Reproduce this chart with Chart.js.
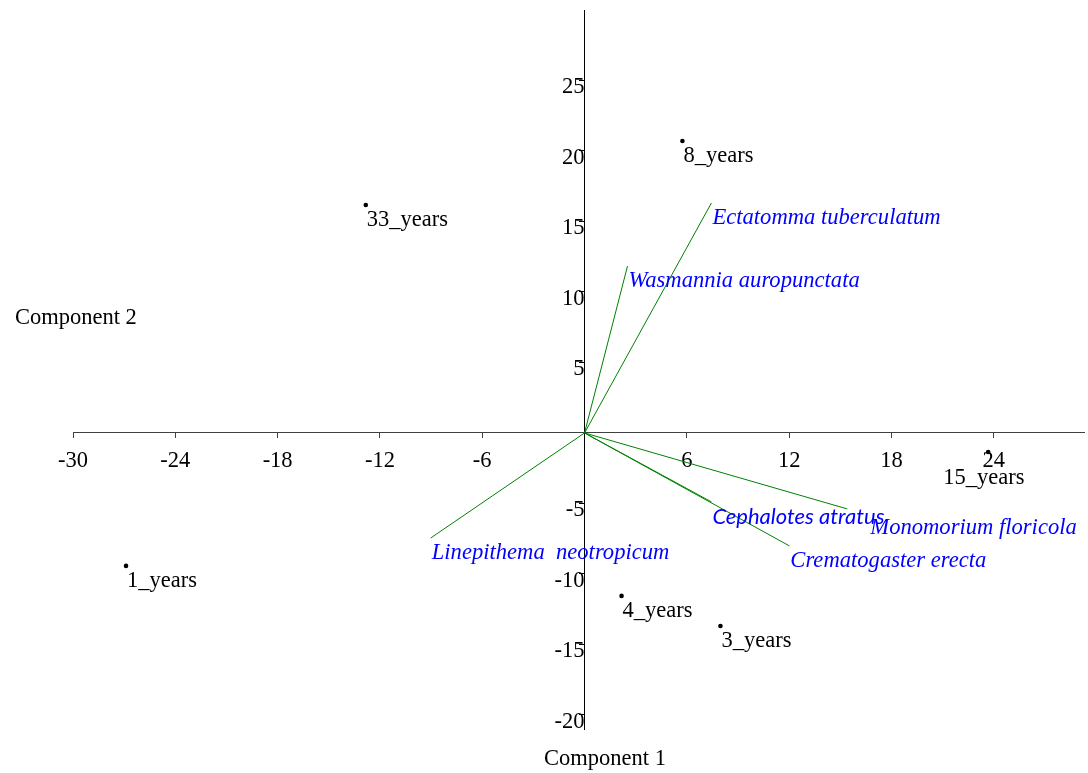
<!DOCTYPE html>
<html>
<head>
<meta charset="utf-8">
<script src="https://cdn.jsdelivr.net/npm/chart.js@4"></script>
<style>
  body { margin: 0; background: #fff; }
  #wrap { width: 1088px; height: 773px; position: relative; }
</style>
</head>
<body>
<div id="wrap"><canvas id="grafico"></canvas></div>
<script>
// Sites (sample scores)
const siteNames = ["8_years", "33_years", "1_years", "4_years", "3_years", "15_years"];
const siteX = [5.74, -12.83, -26.89, 2.17, 7.97, 23.67];
const siteY = [20.71, 16.17, -9.43, -11.56, -13.69, -1.35];

// Species (loadings)
const speciesNames = ["Ectatomma tuberculatum", "Wasmannia auropunctata", "Cephalotes atratus",
  "Monomorium floricola", "Crematogaster erecta", "Linepithema  neotropicum"];
const speciesX = [7.44, 2.52, 7.44, 15.41, 12.01, -9.02];
const speciesY = [16.31, 11.84, -4.89, -5.39, -8.01, -7.45];

// Tick labels
const xTicks = [-30, -24, -18, -12, -6, 6, 12, 18, 24];
const yTicks = [-20, -15, -10, -5, 5, 10, 15, 20, 25];

const serif = '"Liberation Serif", "Times New Roman", serif';

// setas das espécies
const vectorSets = speciesNames.map((nome, i) => ({
  label: nome,
  data: [{ x: 0, y: 0 }, { x: speciesX[i], y: speciesY[i] }],
  showLine: true,
  borderColor: "#008000",
  borderWidth: 1,
  pointRadius: 0,
  fill: false
}));

const siteSet = {
  label: "sites",
  data: siteX.map((x, i) => ({ x: x, y: siteY[i] })),
  backgroundColor: "#000",
  borderColor: "#000",
  pointRadius: 2.3,
  borderWidth: 0
};

// textos dos pontos e das espécies
const rotulos = {
  id: "rotulos",
  afterDatasetsDraw(chart) {
    const ctx = chart.ctx;
    const sx = chart.scales.x, sy = chart.scales.y;
    ctx.save();
    ctx.textBaseline = "middle";
    ctx.textAlign = "left";

    ctx.font = "22.5px " + serif;
    ctx.fillStyle = "#000";
    siteNames.forEach((nome, i) => {
      let px = sx.getPixelForValue(siteX[i]) + 1;
      let py = sy.getPixelForValue(siteY[i]) + 15;
      if (nome === "15_years") { px -= 46; py += 11; }
      ctx.fillText(nome, px, py);
    });

    ctx.fillStyle = "#0000ff";
    speciesNames.forEach((nome, i) => {
      let px = sx.getPixelForValue(speciesX[i]) + 1;
      let py = sy.getPixelForValue(speciesY[i]) + 15;
      if (nome === "Cephalotes atratus") {
        ctx.font = "italic 22px Lato, sans-serif";
      } else {
        ctx.font = "italic 22.6px " + serif;
      }
      if (nome === "Monomorium floricola") { px += 22; py += 4; }
      ctx.fillText(nome, px, py);
    });

    // títulos dos eixos
    ctx.font = "22.5px " + serif;
    ctx.fillStyle = "#000";
    ctx.textAlign = "center";
    ctx.fillText("Component 1", 605, 759);
    ctx.textAlign = "left";
    ctx.fillText("Component 2", 15, 318);
    ctx.restore();
  }
};

new Chart(document.getElementById("grafico"), {
  type: "scatter",
  data: { datasets: [...vectorSets, siteSet] },
  options: {
    responsive: true,
    maintainAspectRatio: false,
    animation: false,
    layout: { padding: { left: 73, right: 0, top: 10, bottom: 44 } },
    plugins: { legend: { display: false }, tooltip: { enabled: false } },
    scales: {
      x: {
        type: "linear",
        position: { y: 0 },
        min: -30,
        max: 29.29,
        afterBuildTicks: (axis) => { axis.ticks = xTicks.map(v => ({ value: v })); },
        grid: { drawOnChartArea: false, drawTicks: true, tickLength: 5, color: "#404040" },
        border: { color: "#404040", width: 1 },
        ticks: { color: "#000", font: { family: serif, size: 22.5 }, padding: 10, maxRotation: 0, autoSkip: false }
      },
      y: {
        type: "linear",
        position: { x: 0 },
        min: -21,
        max: 30,
        afterBuildTicks: (axis) => { axis.ticks = yTicks.map(v => ({ value: v })); },
        grid: { drawOnChartArea: false, drawTicks: true, tickLength: 5, color: "#000" },
        border: { color: "#000", width: 1 },
        ticks: { color: "#000", font: { family: serif, size: 22.5 }, padding: -4, labelOffset: 7, autoSkip: false }
      }
    }
  },
  plugins: [rotulos]
});
</script>
</body>
</html>
